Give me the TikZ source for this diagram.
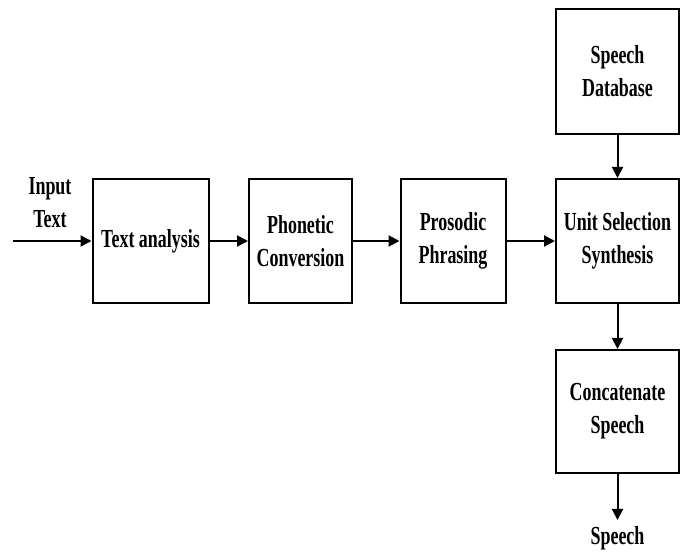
\documentclass[tikz,border=0pt]{standalone}
\usepackage{fontspec}
\setmainfont{Liberation Serif}
\newfontfamily\narrowserif[FakeStretch=0.69]{Liberation Serif}
\usetikzlibrary{arrows.meta}
\begin{document}
\begin{tikzpicture}[x=1pt,y=1pt,
  every node/.style={font=\narrowserif\bfseries\fontsize{26}{33}\selectfont, align=center, inner sep=0pt},
  block/.style={draw, line width=2pt, minimum height=124pt},
  flow/.style={line width=2pt, -{Triangle[length=11pt,width=11pt]}}]
\useasboundingbox (0,0) rectangle (686,552);
% processing chain
\node[block, minimum width=116pt] (ta) at (150.5,311) {Text analysis};
\node[block, minimum width=103pt] (pc) at (300.5,311) {Phonetic\\Conversion};
\node[block, minimum width=105pt] (pp) at (453,311) {Prosodic\\Phrasing};
\node[block, minimum width=123pt] (us) at (617.5,311) {Unit Selection\\Synthesis};
\node[block, minimum width=123pt, minimum height=125pt] (db) at (617.5,480.5) {Speech\\Database};
\node[block, minimum width=123pt, minimum height=123pt] (cs) at (617.5,140.5) {Concatenate\\Speech};
% inputs and outputs
\node (in) at (50,349) {Input\\Text};
\coordinate (src) at (13,311);
\node (out) at (617.5,14) {Speech};
\coordinate (outtip) at (617.5,32);
% connectors
\draw[flow] (src) -- (ta);
\draw[flow] (ta) -- (pc);
\draw[flow] (pc) -- (pp);
\draw[flow] (pp) -- (us);
\draw[flow] (db) -- (us);
\draw[flow] (us) -- (cs);
\draw[flow] (cs) -- (outtip);
\end{tikzpicture}
\end{document}
